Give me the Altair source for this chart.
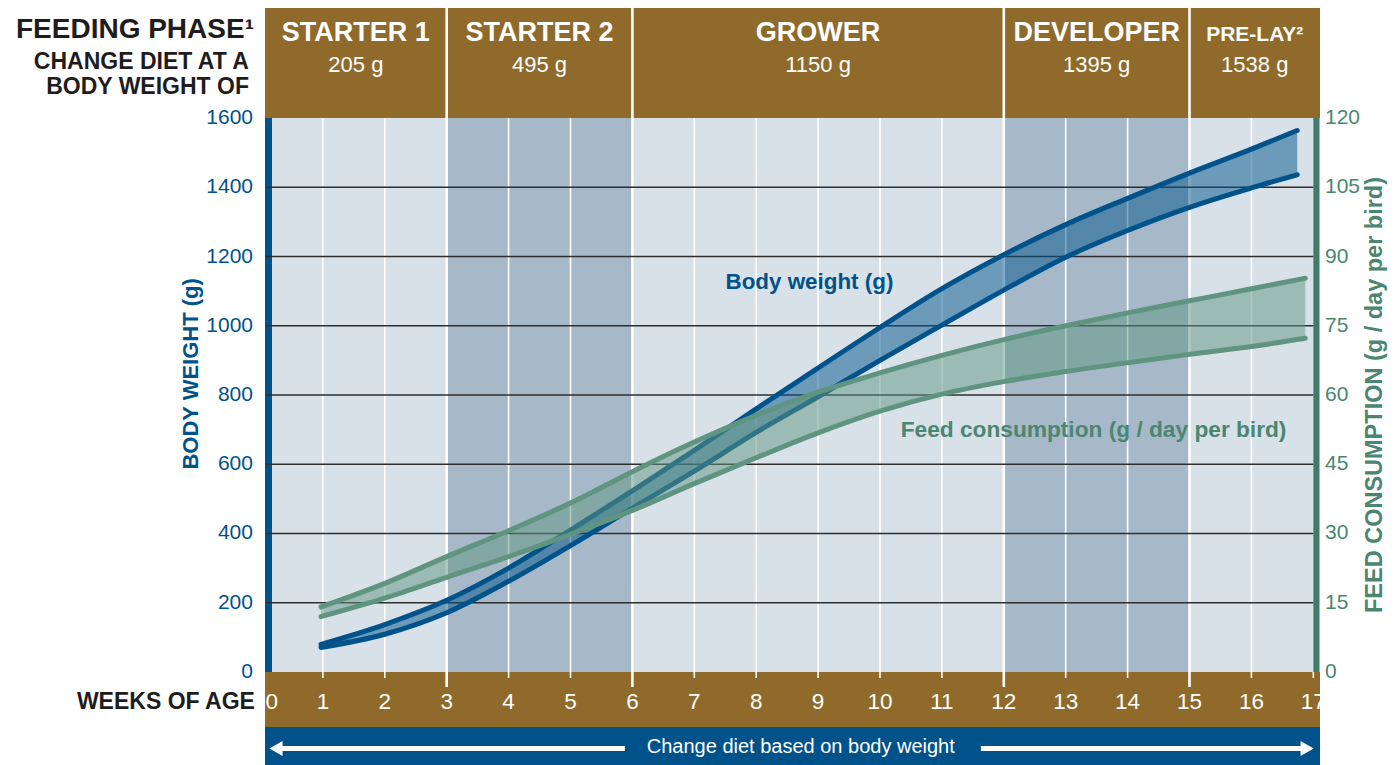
import altair as alt
import pandas as pd

# ---------------- data ----------------
BW_WEEKS = [0.97, 2, 3, 4, 5, 6, 7, 8, 9, 10, 11, 12, 13, 14, 15, 16, 16.74]
BW_UPPER = [80, 137, 207, 300, 410, 523, 640, 760, 878, 995, 1107, 1205, 1292, 1368, 1441, 1510, 1564]
BW_LOWER = [71, 109, 171, 262, 365, 473, 580, 692, 795, 900, 1002, 1103, 1198, 1275, 1342, 1398, 1436]

FEED_WEEKS = [0.97, 2, 3, 4, 5, 6, 7, 8, 9, 10, 11, 12, 13, 14, 15, 16, 16.87]
FEED_UPPER = [14.1, 19.2, 25.0, 30.6, 36.6, 43.4, 49.8, 55.6, 60.6, 64.8, 68.6, 72.0, 75.0, 77.8, 80.4, 83.0, 85.3]
FEED_LOWER = [12.0, 16.0, 20.5, 25.0, 29.8, 35.0, 40.8, 46.4, 51.8, 56.5, 60.2, 62.9, 65.1, 67.0, 68.8, 70.5, 72.3]

PHASE_NAMES = ["STARTER 1", "STARTER 2", "GROWER", "DEVELOPER", "PRE-LAY²"]
PHASE_WEIGHTS = ["205 g", "495 g", "1150 g", "1395 g", "1538 g"]
PHASE_CHANGE_WEEKS = [3, 6, 12, 15]
SHADED_START = [3, 12]
SHADED_END = [6, 15]
WEEKS = list(range(0, 18))
BW_TICKS = list(range(0, 1601, 200))
FEED_TICKS = list(range(0, 121, 15))

# ---------------- style ----------------
BROWN = "#8F6A2B"
BLUE = "#00538A"
BG = "#D8E0E8"
BAND = "#A7B9C9"
GREEN_LINE = "#5F9580"
GREEN_BAR = "#3E7B68"
GREEN_TEXT = "#4A8670"
GRID = "#2E2E2E"
BLACK = "#1E1C1D"
FONT = "Liberation Sans, Arial, Helvetica, sans-serif"

# ---------------- layout (in data units) ----------------
X_MIN, X_MAX = 0.065, 17.108
BG_LEFT, WEEK_END, RIGHT_BAR_END = 0.178, 17.0, 17.1
Y_MIN, Y_MAX = -268.6, 1917.7
BW_TOP = 1600
ROW_BOTTOM = -158.8
TICK_SHORT, TICK_LONG = -17.3, -43.3
FEED_PER_BW = 120 / 1600
LEFT_LABEL_X, RIGHT_LABEL_X = -0.129, 17.189

xs = alt.Scale(domain=[X_MIN, X_MAX], nice=False, zero=False)
ys = alt.Scale(domain=[Y_MIN, Y_MAX], nice=False, zero=False)
fs = alt.Scale(domain=[Y_MIN * FEED_PER_BW, Y_MAX * FEED_PER_BW], nice=False, zero=False)


def X(f):
    return alt.X(f, type="quantitative", scale=xs, axis=None)


def Y(f, scale=ys):
    return alt.Y(f, type="quantitative", scale=scale, axis=None)


def rects(rows, color):
    df = pd.DataFrame(rows, columns=["x0", "x1", "y0", "y1"])
    return alt.Chart(df).mark_rect(color=color, strokeWidth=0).encode(
        x=X("x0"), x2="x1", y=Y("y0"), y2="y1")


def vrules(xvals, y0, y1, width, color="white"):
    df = pd.DataFrame({"x": xvals, "y0": y0, "y1": y1})
    return alt.Chart(df).mark_rule(color=color, strokeWidth=width).encode(
        x=X("x"), y=Y("y0"), y2="y1")


def texts(rows, scale=ys, **kw):
    df = pd.DataFrame(rows, columns=["x", "y", "t"])
    return alt.Chart(df).mark_text(font=FONT, **kw).encode(
        x=X("x"), y=Y("y", scale), text="t:N")


# backgrounds
bands = rects([
    [X_MIN, X_MAX, BW_TOP, Y_MAX],          # header
    [X_MIN, X_MAX, ROW_BOTTOM, 0],          # weeks row
], BROWN)
footer = rects([[X_MIN, X_MAX, Y_MIN, ROW_BOTTOM]], BLUE)
plot_bg = rects([[BG_LEFT, WEEK_END, 0, BW_TOP]], BG)
shaded = rects([[a, b, 0, BW_TOP] for a, b in zip(SHADED_START, SHADED_END)], BAND)

minor_w = [w for w in WEEKS if 1 <= w <= 16 and w not in PHASE_CHANGE_WEEKS]
vgrid = vrules(minor_w, 0, BW_TOP, 1.6)
ticks = vrules([w for w in WEEKS if w >= 1 and w not in PHASE_CHANGE_WEEKS], TICK_SHORT, 0, 1.6)
dividers = vrules(PHASE_CHANGE_WEEKS, TICK_LONG, Y_MAX, 2.6)

left_bar = rects([[X_MIN, BG_LEFT, 0, BW_TOP]], BLUE)
right_bar = rects([[WEEK_END, RIGHT_BAR_END, 0, BW_TOP]], GREEN_BAR)

hgrid_df = pd.DataFrame({"y": [v for v in BW_TICKS if 0 < v < BW_TOP]})
hgrid_df["x0"], hgrid_df["x1"] = X_MIN, WEEK_END
hgrid = alt.Chart(hgrid_df).mark_rule(color=GRID, strokeWidth=1.6).encode(
    x=X("x0"), x2="x1", y=Y("y"))

# body weight band
bw_df = pd.DataFrame({"week": BW_WEEKS, "upper": BW_UPPER, "lower": BW_LOWER})
bw_area = alt.Chart(bw_df).mark_area(color=BLUE, opacity=0.5, interpolate="monotone").encode(
    x=X("week"), y=Y("lower"), y2="upper:Q")
bw_lines = [
    alt.Chart(bw_df).mark_line(color=BLUE, strokeWidth=5, strokeCap="round",
                               interpolate="monotone").encode(x=X("week"), y=Y(c))
    for c in ["upper", "lower"]
]

# feed band (right scale)
feed_df = pd.DataFrame({"week": FEED_WEEKS, "upper": FEED_UPPER, "lower": FEED_LOWER})
feed_area = alt.Chart(feed_df).mark_area(color=GREEN_LINE, opacity=0.5, interpolate="monotone").encode(
    x=X("week"), y=Y("lower", fs), y2="upper:Q")
feed_lines = [
    alt.Chart(feed_df).mark_line(color=GREEN_LINE, strokeWidth=5, strokeCap="round",
                                 interpolate="monotone").encode(x=X("week"), y=Y(c, fs))
    for c in ["upper", "lower"]
]

# axis tick labels
bw_labels = texts([[LEFT_LABEL_X, v, str(v)] for v in BW_TICKS], fontSize=21, color=BLUE,
                  align="right", baseline="middle")
feed_labels = texts([[RIGHT_LABEL_X, v, str(v)] for v in FEED_TICKS], scale=fs, fontSize=21,
                    color=GREEN_TEXT, align="left", baseline="middle")

# texts
bounds = [X_MIN] + PHASE_CHANGE_WEEKS + [X_MAX]
centers = [(a + b) / 2 for a, b in zip(bounds[:-1], bounds[1:])]
phase_names = texts([[c, 1823, n] for c, n in zip(centers[:-1], PHASE_NAMES[:-1])],
                    fontSize=27, fontWeight="bold", color="white",
                    align="center", baseline="alphabetic")
prelay = texts([[centers[-1], 1823, PHASE_NAMES[-1]]], fontSize=21,
               fontWeight="bold", color="white", align="center", baseline="alphabetic")
phase_w = texts([[c, 1733, n] for c, n in zip(centers, PHASE_WEIGHTS)],
                fontSize=22, color="white", align="center", baseline="alphabetic")

left_title = texts([[-0.113, 1831, "FEEDING PHASE¹"]], fontSize=28,
                   fontWeight="bold", color=BLACK, align="right", baseline="alphabetic")
left_sub = texts([[-0.194, 1740.7, "CHANGE DIET AT A"], [-0.194, 1668.5, "BODY WEIGHT OF"]],
                 fontSize=23, fontWeight="bold", color=BLACK, align="right",
                 baseline="alphabetic")
weeks_title = texts([[-0.097, -106, "WEEKS OF AGE"]], fontSize=23,
                    fontWeight="bold", color=BLACK, align="right", baseline="alphabetic")
week_lbls = texts([[max(w, 0.173), -107, str(w)] for w in WEEKS], fontSize=22.5,
                  color="white", align="center", baseline="alphabetic")

bw_title = texts([[-1.13, 861, "BODY WEIGHT (g)"]], fontSize=22, fontWeight="bold",
                 color=BLUE, align="center", baseline="middle", angle=270)
feed_title = texts([[17.99, 800, "FEED CONSUMPTION (g / day per bird)"]],
                   fontSize=23.5, fontWeight="bold", color=GREEN_TEXT, align="center",
                   baseline="middle", angle=270)
bw_note = texts([[8.86, 1106, "Body weight (g)"]], fontSize=22.4, fontWeight="bold",
                color=BLUE, align="center", baseline="alphabetic")
feed_note = texts([[13.45, 680, "Feed consumption (g / day per bird)"]], fontSize=22.7,
                  fontWeight="bold", color=GREEN_TEXT, align="center", baseline="alphabetic")
footer_txt = texts([[8.72, -233, "Change diet based on body weight"]],
                   fontSize=20, color="white", align="center", baseline="alphabetic")

# arrows in footer
ARROW_Y = -221
arrow_df = pd.DataFrame({"x0": [0.243, 11.63], "x1": [5.88, 16.9], "y": [ARROW_Y, ARROW_Y]})
arrow_lines = alt.Chart(arrow_df).mark_rule(color="white", strokeWidth=5).encode(
    x=X("x0"), x2="x1", y=Y("y"))
heads = alt.layer(*[
    alt.Chart(pd.DataFrame({"x": [hx], "y": [ARROW_Y]})).mark_point(
        shape=shape, filled=True, size=230, color="white", opacity=1, strokeWidth=0).encode(
        x=X("x"), y=Y("y"))
    for hx, shape in [(0.243, "triangle-left"), (16.9, "triangle-right")]
])

bw_group = alt.layer(
    bands, footer, plot_bg, shaded, vgrid, ticks, dividers, left_bar, right_bar, hgrid,
    bw_area, *bw_lines, bw_labels,
    phase_names, prelay, phase_w, left_title, left_sub, weeks_title, week_lbls,
    bw_title, feed_title, bw_note, feed_note, footer_txt, arrow_lines, heads,
)
feed_group = alt.layer(feed_area, *feed_lines, feed_labels)

chart = alt.layer(bw_group, feed_group).resolve_scale(y="independent").properties(
    width=1055, height=757,
    padding={"left": 257, "right": 70, "top": 0, "bottom": 0},
    autosize=alt.AutoSizeParams(type="none"),
    background="white",
).configure_view(strokeWidth=0)

chart.save("out.html", embed_options={"renderer": "svg", "actions": False})
